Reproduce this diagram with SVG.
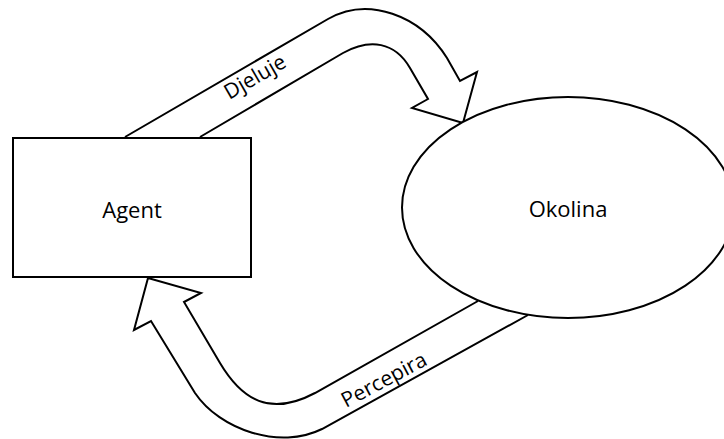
<svg xmlns="http://www.w3.org/2000/svg" width="724" height="439" viewBox="0 0 724 439">
<style>
.shape{fill:#fff;stroke:#000;stroke-width:2}
.arrow{fill:#fff;stroke:#000;stroke-width:2;stroke-linejoin:miter}
.t{font-family:"Open Sans","Noto Sans",sans-serif;font-size:21px;fill:#000;text-anchor:middle}
</style>
<rect width="724" height="439" fill="#fff"/>
<g id="connectors">
<g id="djeluje">
<path class="arrow" d="M125,137 L328,19 C368,-4 420,15 447,58 L460,81 L477,72 L463,123 L412,108 L428,99 L410,68 C395,42 370,38 343,53 L200,137"/>
<text class="t" transform="translate(255,77) rotate(-30)" x="0" y="7">Djeluje</text>
</g>
<g id="percepira">
<path class="arrow" d="M528,315 L322,429 C280,450 220,430 195,393 L151,321 L134,330 L148,278 L201,293 L184,302 L220,363 C242,400 270,417 315,393 L478,301"/>
<text class="t" transform="translate(384,380) rotate(-28)" x="0" y="7">Percepira</text>
</g>
</g>
<g id="agent">
<rect class="shape" x="13" y="138" width="238" height="139"/>
<text class="t" x="132" y="218" style="font-size:22px">Agent</text>
</g>
<g id="okolina">
<ellipse class="shape" cx="568" cy="207.5" rx="166" ry="110.5"/>
<text class="t" x="568" y="217" style="font-size:22px">Okolina</text>
</g>
</svg>
